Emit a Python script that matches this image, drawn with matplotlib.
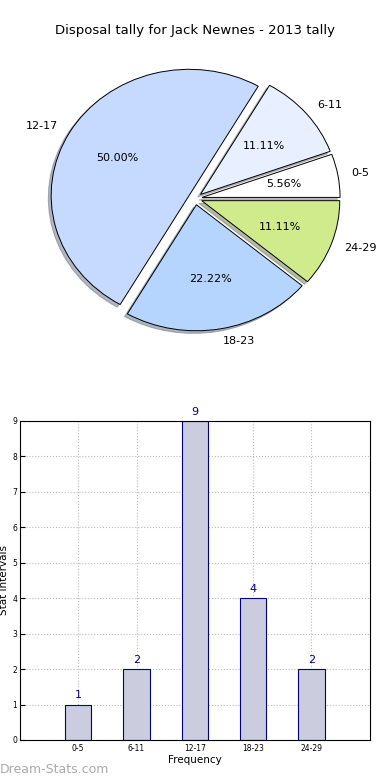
import matplotlib
matplotlib.use('Agg')
import matplotlib.pyplot as plt

labels = ['0-5', '6-11', '12-17', '18-23', '24-29']
counts = [1, 2, 9, 4, 2]
pie_colors = ['#ffffff', '#e8f0ff', '#c6d9ff', '#b5d5ff', '#d0eb8c']
explode = [0.05, 0.05, 0.05, 0.05, 0.05]

fig = plt.figure(figsize=(3.9, 7.8), dpi=100)

# pie chart
ax1 = fig.add_axes([0.058, 0.5435, 0.885, 0.404])
ax1.pie(counts, labels=labels, colors=pie_colors, explode=explode,
        autopct='%1.2f%%', shadow={'ox': -0.015, 'oy': -0.015, 'shade': 0.5},
        startangle=0,
        wedgeprops={'edgecolor': 'black', 'linewidth': 0.7},
        textprops={'fontsize': 8})
ax1.set_aspect('auto')
ax1.set_xlim(-1.25, 1.25)
ax1.set_ylim(-1.25, 1.25)
fig.text(0.5, 0.961, 'Disposal tally for Jack Newnes - 2013 tally',
         ha='center', va='center', fontsize=9.5)

# bar chart
ax2 = fig.add_axes([0.051, 0.0513, 0.897, 0.409])
x = range(len(labels))
ax2.bar(x, counts, width=0.45, color='#ccccdf', edgecolor='#000080', linewidth=0.8, zorder=2)
for i, c in zip(x, counts):
    ax2.text(i, c + 0.12, str(c), ha='center', va='bottom', color='#000080', fontsize=8)
ax2.set_xlim(-1, 5)
ax2.set_ylim(0, 9)
ax2.set_xticks(list(x))
ax2.set_xticklabels(labels, fontsize=5.5)
ax2.set_yticks(range(10))
ax2.tick_params(axis='y', labelsize=5.5, direction='in', pad=2)
ax2.tick_params(axis='x', direction='in', pad=3)
ax2.grid(True, linestyle=':', color='#bbbbbb', linewidth=0.8, zorder=0)
ax2.set_axisbelow(True)
ax2.set_xlabel('Frequency', fontsize=7.5, labelpad=1)
ax2.set_ylabel('Stat Intervals', fontsize=7.5, labelpad=2)

fig.text(0.0, 0.013, 'Dream-Stats.com', color='#aaaaaa', fontsize=9,
         ha='left', va='center')

fig.savefig('out.png', dpi=100)
